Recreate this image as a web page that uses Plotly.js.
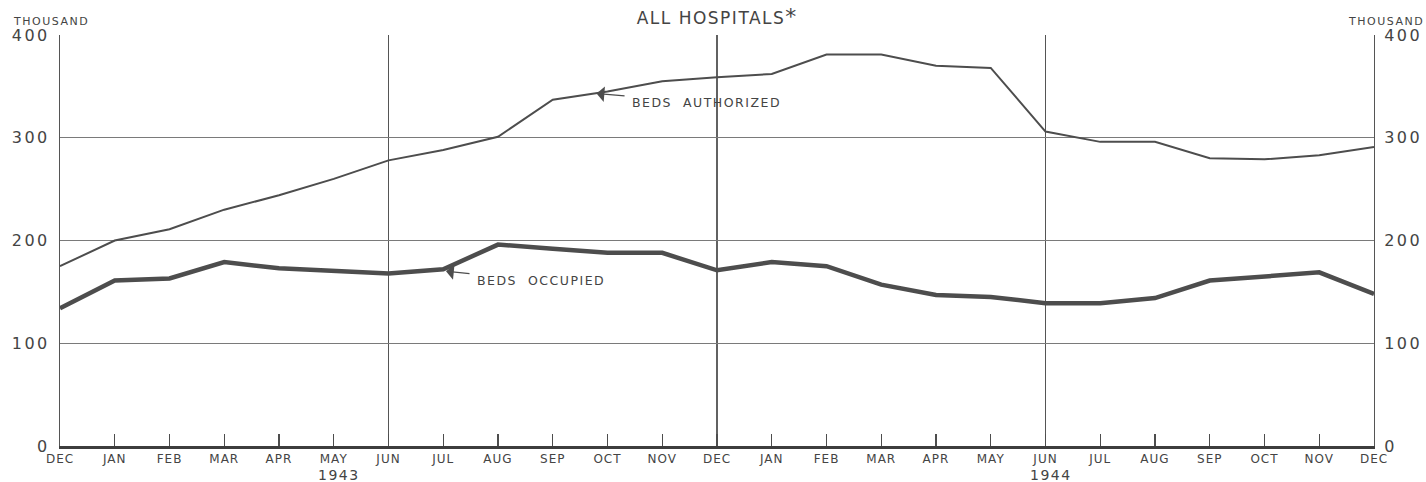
<!DOCTYPE html>
<html>
<head>
<meta charset="utf-8">
<script src="https://cdn.plot.ly/plotly-3.0.1.min.js"></script>
<style>
  html, body { margin: 0; padding: 0; background: #ffffff; }
  #chart { width: 1426px; height: 482px; }
  .ytick text, .y2tick text { letter-spacing: 2.5px; }
  .xtick text { letter-spacing: 1px; }
  .annotation-text { letter-spacing: 1.5px; }
  .gtitle { letter-spacing: 1.5px; }
</style>
</head>
<body>
<div id="chart"></div>
<script>
// Months Dec 1942 .. Dec 1944
var months = ["DEC","JAN","FEB","MAR","APR","MAY","JUN","JUL","AUG","SEP","OCT","NOV",
              "DEC","JAN","FEB","MAR","APR","MAY","JUN","JUL","AUG","SEP","OCT","NOV","DEC"];
var bedsAuthorized = [175, 200, 211, 230, 244, 260, 278, 288, 301, 337, 345, 355,
                      359, 362, 381, 381, 370, 368, 306, 296, 296, 280, 279, 283, 291];
var bedsOccupied   = [134, 161, 163, 179, 173, 171, 168, 172, 196, 192, 188, 188,
                      171, 179, 175, 157, 147, 145, 139, 139, 144, 161, 165, 169, 148];
var yTicks = [0, 100, 200, 300, 400];
var yearLabels = ["1943", "1944"];

var idx = months.map(function (m, i) { return i; });
var lineColor = "#4d4d4d";
var gridColor = "#7a7a7a";
var fontFam = "DejaVu Sans, Liberation Sans, sans-serif";

var traces = [
  { x: idx, y: bedsAuthorized, type: "scatter", mode: "lines", name: "Beds authorized",
    line: { color: lineColor, width: 2 }, hoverinfo: "skip" },
  { x: idx, y: bedsOccupied, type: "scatter", mode: "lines", name: "Beds occupied",
    line: { color: lineColor, width: 4.5 }, hoverinfo: "skip" },
  { x: idx, y: bedsOccupied, type: "scatter", mode: "lines", yaxis: "y2",
    line: { color: "rgba(0,0,0,0)", width: 0 }, hoverinfo: "skip", showlegend: false }
];

var vGrid = [6, 12, 18].map(function (v, i) {
  return { type: "line", xref: "x", yref: "paper", x0: v, x1: v, y0: 0, y1: 1,
           line: { color: i === 1 ? "#3a3a3a" : "#555555", width: i === 1 ? 1.6 : 1 }, layer: "below" };
});

var layout = {
  width: 1426, height: 482,
  margin: { l: 60, r: 52, t: 35, b: 36 },
  paper_bgcolor: "#ffffff", plot_bgcolor: "#ffffff",
  showlegend: false,
  font: { family: fontFam, color: "#444444" },
  title: { text: "ALL HOSPITALS<span style='font-size:22px'>*</span>", x: 0.503, xanchor: "center",
           y: 0.962, yref: "container", yanchor: "middle",
           font: { family: fontFam, size: 17, color: "#444444" } },
  xaxis: {
    range: [0, 24], tickmode: "array", tickvals: idx, ticktext: months,
    ticks: "inside", ticklen: 12, tickwidth: 1.2, tickcolor: lineColor,
    showgrid: false, zeroline: false,
    showline: true, linecolor: "#3d3d3d", linewidth: 3,
    tickfont: { family: fontFam, size: 12, color: "#444444" },
    fixedrange: true
  },
  yaxis: {
    range: [0, 400], tickmode: "array", tickvals: yTicks,
    showgrid: true, gridcolor: gridColor, gridwidth: 1,
    zeroline: false, showline: true, linecolor: "#555555", linewidth: 1,
    ticks: "", ticklabelstandoff: 6,
    tickfont: { family: fontFam, size: 16, color: "#444444" },
    fixedrange: true
  },
  yaxis2: {
    range: [0, 400], tickmode: "array", tickvals: yTicks, overlaying: "y", side: "right",
    showgrid: false, zeroline: false, showline: true, linecolor: "#555555", linewidth: 1,
    ticks: "", ticklabelstandoff: 6,
    tickfont: { family: fontFam, size: 16, color: "#444444" },
    fixedrange: true
  },
  shapes: vGrid,
  annotations: [
    { text: "THOUSAND", xref: "paper", yref: "paper", x: 0, y: 1, xanchor: "left", yanchor: "bottom",
      xshift: -49, yshift: 5, showarrow: false, font: { family: fontFam, size: 11, color: "#444444" } },
    { text: "THOUSAND", xref: "paper", yref: "paper", x: 1, y: 1, xanchor: "right", yanchor: "bottom",
      xshift: 52, yshift: 5, showarrow: false, font: { family: fontFam, size: 11, color: "#444444" } },
    { text: yearLabels[0], xref: "x", yref: "paper", x: 5.1, y: 0, yanchor: "top", yshift: -19,
      showarrow: false, font: { family: fontFam, size: 14, color: "#444444" } },
    { text: yearLabels[1], xref: "x", yref: "paper", x: 18.1, y: 0, yanchor: "top", yshift: -19,
      showarrow: false, font: { family: fontFam, size: 14, color: "#444444" } },
    { text: "BEDS  AUTHORIZED", xref: "x", yref: "y", x: 9.8, y: 343, ax: 110, ay: 9,
      showarrow: true, arrowhead: 1, arrowsize: 2, arrowwidth: 1.3, arrowcolor: lineColor,
      standoff: 0, startstandoff: 6, font: { family: fontFam, size: 12.5, color: "#444444" } },
    { text: "BEDS  OCCUPIED", xref: "x", yref: "y", x: 7.05, y: 170, ax: 95, ay: 9,
      showarrow: true, arrowhead: 1, arrowsize: 2, arrowwidth: 1.3, arrowcolor: lineColor,
      standoff: 0, startstandoff: 6, font: { family: fontFam, size: 12.5, color: "#444444" } }
  ]
};

Plotly.newPlot("chart", traces, layout, { staticPlot: true, displayModeBar: false });
</script>
</body>
</html>
